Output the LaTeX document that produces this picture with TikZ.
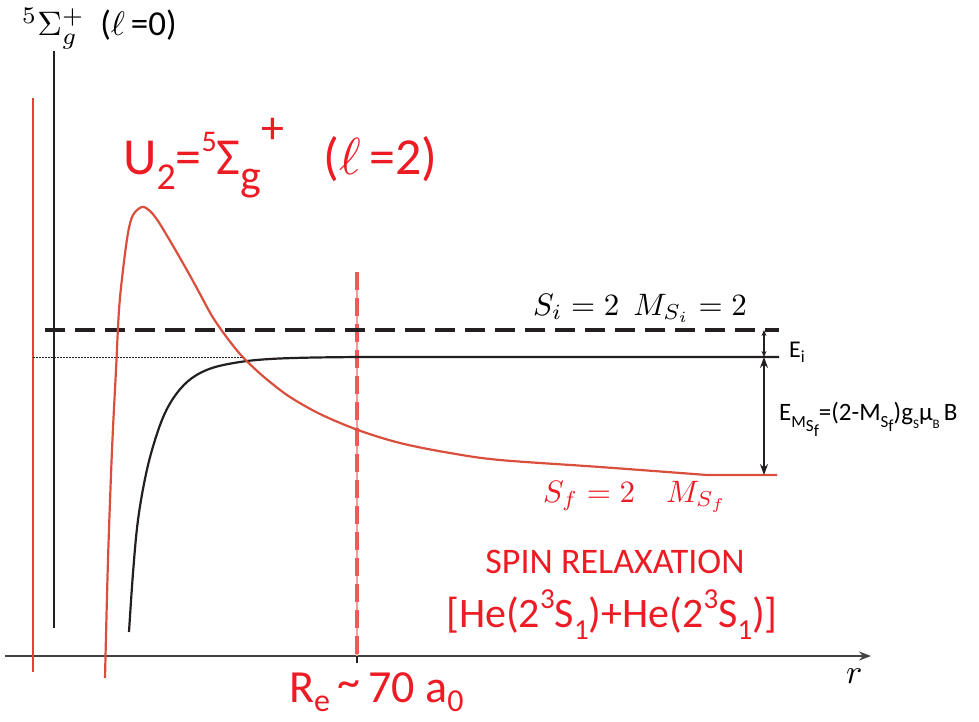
\documentclass[tikz,border=0pt]{standalone}
\usepackage{graphicx}
\usepackage[no-math]{fontspec}
\setmainfont{Carlito}
\usetikzlibrary{arrows.meta}
\definecolor{tred}{RGB}{237,28,36}
\definecolor{cred}{RGB}{218,78,60}
\definecolor{lred}{RGB}{232,64,56}
\definecolor{dred}{RGB}{236,90,90}
\definecolor{ink}{RGB}{35,31,32}
\newcommand{\fsz}[1]{\fontsize{#1}{#1}\selectfont}
\newcommand{\mth}[2]{\scalebox{#1}{\fontsize{10}{12}\selectfont$#2$}}
\begin{document}
\begin{tikzpicture}[x=1pt,y=-1pt,
  axisline/.style={draw=ink!85,line width=1.3pt,-{Stealth[length=12pt,width=9pt]}},
  redcurve/.style={draw=cred,line width=2.2pt,line join=round},
  blkcurve/.style={draw=ink,line width=2.2pt,line join=round},
  redvert/.style={draw=lred,line width=1.8pt},
  blkvert/.style={draw=ink,line width=2pt},
  levdash/.style={draw=ink,line width=3.6pt,dash pattern=on 20pt off 10pt},
  dotline/.style={draw=ink,line width=0.7pt,dash pattern=on 1.5pt off 1.5pt},
  dimarrow/.style={draw=ink,line width=1.2pt,{Stealth[length=11pt,width=8pt]}-{Stealth[length=11pt,width=8pt]}},
  smallarrow/.style={draw=ink,line width=1.2pt,{Stealth[length=6pt,width=5pt]}-{Stealth[length=6pt,width=5pt]}},
  lbl/.style={inner sep=0pt,anchor=base west},
  redlbl/.style={lbl,text=tred},
]
\useasboundingbox (0,0) rectangle (979,722);

% axis
\coordinate (ax0) at (5,656);
\coordinate (ax1) at (871,656);
\draw[axisline] (ax0) -- (ax1);
\node[lbl] (rlab) at (846,683) {\mth{3.4}{r}};

% vertical lines
\coordinate (rv0) at (33,98);
\coordinate (rv1) at (33,672);
\draw[redvert] (rv0) -- (rv1);
\coordinate (bv0) at (54,51);
\coordinate (bv1) at (54,628);
\draw[blkvert] (bv0) -- (bv1);

% R_e marker
\coordinate (re0) at (357,272);
\coordinate (re1) at (357,656);
\coordinate (re2) at (357,663);
\draw[draw=dred!60,line width=1.2pt] (re0) -- (re1);
\draw[draw=dred,line width=4pt,dash pattern=on 18pt off 8pt] (re0) -- (re1);
\draw[draw=ink,line width=1.2pt] (re1) -- (re2);

% dotted and dashed levels
\coordinate (dl0) at (33,357);
\coordinate (dl1) at (245,357);
\draw[dotline] (dl0) -- (dl1);
\coordinate (lv0) at (45,330);
\coordinate (lv1) at (779,330);
\draw[levdash] (lv0) -- (lv1);

% black curve
\draw[blkcurve] plot[smooth,tension=0.6] coordinates {(129,632) (133,573) (138,520) (146,474) (155,440) (165,413) (177,393) (192,378) (212,368) (240,362) (270,359) (310,357.6) (360,357)} -- (779,357);

% red curve
\draw[redcurve] plot[smooth,tension=0.55] coordinates {(105,678) (108,560) (112,450) (116,370) (119,310) (123,270) (128,233) (133,215) (142,207) (150,211) (158,221) (166,234) (176,251) (188,272) (200,294) (212,316) (225,335) (240,354) (255,369) (270,382) (290,397) (320,414) (358,430) (400,443) (450,453) (500,460) (600,467) (707,475)} -- (777,475);

% arrows
\coordinate (a0) at (764,330);
\coordinate (a1) at (764,357);
\coordinate (a2) at (764,475);
\draw[smallarrow] (a0) -- (a1);
\draw[dimarrow] (a1) -- (a2);

% labels
\node[lbl] (title) at (22,36) {\mth{3.4}{^5\Sigma_g^+}\fsz{35}\hspace{0.45em}(\mth{3.4}{\ell}\,=0)};
\node[redlbl] (u2) at (123,175) {\fsz{52}U\raisebox{-0.28em}{\fsz{38}2}=\raisebox{0.45em}{\fsz{30}5}{\fsz{52}Σ}\raisebox{-0.3em}{\fsz{44}g}\raisebox{0.6em}{\fsz{46}+}\hspace{0.75em}(\mth{5.2}{\ell}\,=2)};
\node[lbl] (si) at (533,315) {\mth{3.1}{S_i = 2\ \ M_{S_i} = 2}};
\node[lbl] (ei) at (789,357) {\fsz{24}E\raisebox{-0.22em}{\fsz{17}i}};
\node[lbl] (em) at (779,420) {\fsz{25}E\raisebox{-0.3em}{\fsz{17}M\raisebox{-0.25em}{S\raisebox{-0.25em}{f}}}=(2-M\raisebox{-0.3em}{\fsz{17}S\raisebox{-0.25em}{f}})g\raisebox{-0.35em}{\fsz{13}S}μ\raisebox{-0.35em}{\fsz{13}B}\,B};
\node[lbl,text=tred] (sf) at (543,502) {\mth{3.1}{S_f = 2\quad M_{S_f}}};
\node[inner sep=0pt,anchor=base,text=tred] (spin) at (615,573) {\fsz{36}SPIN RELAXATION};
\node[inner sep=0pt,anchor=base,text=tred] (he) at (612,627) {\fsz{42}[He(2\raisebox{0.45em}{\fsz{29}3}S\raisebox{-0.3em}{\fsz{29}1})+He(2\raisebox{0.45em}{\fsz{29}3}S\raisebox{-0.3em}{\fsz{29}1})]};
\node[redlbl] (relab) at (289,702) {\fsz{46}R\raisebox{-0.2em}{\fsz{32}e}\,\raisebox{0.1em}{\textasciitilde}\,70 a\raisebox{-0.2em}{\fsz{32}0}};
\end{tikzpicture}
\end{document}
